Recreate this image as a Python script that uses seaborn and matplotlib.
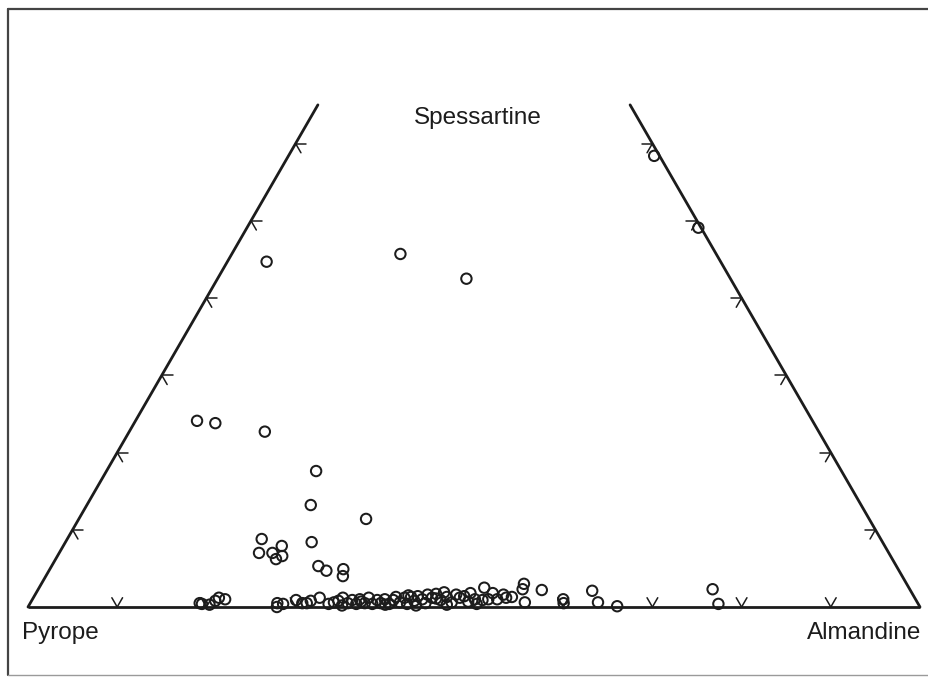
import numpy as np
import pandas as pd
import matplotlib
matplotlib.use("Agg")
import matplotlib.pyplot as plt
from matplotlib.lines import Line2D
import seaborn as sns

# Garnet compositions, mol % end-members (pyrope = 100 - spessartine - almandine)
spessartine = [
    44.7, 45.7, 42.5, 58.4, 49.1, 24.1, 23.8, 22.7, 17.6, 13.2, 11.4,
    8.8, 7.0, 7.0, 7.9, 6.2, 6.6, 8.4, 5.3, 4.7, 4.9, 4.0,
    0.5, 0.4, 0.3, 0.8, 1.2, 1.0,
    0.5, 0.0, 0.4, 0.9, 0.5, 0.5, 0.8, 1.2, 0.4, 0.6,
    0.8, 1.2, 0.5, 0.9, 0.4, 1.0, 0.5, 1.2, 0.4, 0.9, 0.5, 1.0, 0.4, 0.9,
    1.3, 0.6, 1.2, 0.4, 1.3, 0.8, 1.4, 1.0, 0.5, 1.6, 1.2, 1.7, 0.9, 1.9,
    1.3, 0.6, 1.6,
    1.2, 1.8, 1.0, 0.4, 2.5, 0.9, 1.0, 1.8, 1.0, 1.6, 1.2, 1.3, 3.0, 2.3,
    0.6, 2.2, 1.0, 0.5, 2.1, 0.6, 0.1, 2.3, 0.4,
    0.2, 0.7, 0.3, 1.5, 0.2, 1.1, 0.3, 1.4, 0.7,
]
almandine = [
    4.4, 18.9, 27.9, 41.0, 50.6, 6.9, 9.1, 15.2, 23.5, 25.1, 32.2,
    21.8, 22.4, 23.9, 24.5, 24.7, 25.2, 27.6, 29.9, 31.1, 32.9, 33.3,
    19.0, 19.3, 20.2, 20.6, 20.8, 21.6,
    27.7, 27.9, 28.4, 29.6, 30.5, 31.0, 31.3, 32.1, 33.5, 34.0,
    34.4, 34.7, 35.6, 35.9, 36.6, 36.7, 37.5, 37.6, 38.4, 38.7, 39.3, 39.5, 40.3, 40.5,
    40.6, 41.4, 41.6, 42.3, 42.3, 42.9, 43.0, 43.7, 44.3, 44.0, 44.7, 44.9, 45.8, 45.7,
    46.3, 47.2, 47.2,
    47.8, 48.7, 49.6, 50.1, 49.9, 50.5, 51.1, 51.2, 52.1, 52.5, 53.0, 53.6, 54.1, 54.3,
    55.4, 56.5, 59.5, 59.8, 62.2, 63.6, 66.0, 75.6, 77.2,
    35.1, 37.0, 39.9, 41.9, 43.4, 45.2, 46.8, 48.2, 49.0,
]

corner_labels = ["Pyrope", "Almandine", "Spessartine"]
tick_values = [10, 20, 30, 40, 50, 60, 70, 80, 90]
sps_max = 65  # upper part of the triangle is cut off here

H = np.sqrt(3) / 2


def to_xy(sps, alm):
    sps = np.asarray(sps, float) / 100
    alm = np.asarray(alm, float) / 100
    return alm + sps / 2, sps * H


df = pd.DataFrame({"Sps": spessartine, "Alm": almandine})
df["Pyr"] = 100 - df["Sps"] - df["Alm"]
df["x"], df["y"] = to_xy(df["Sps"], df["Alm"])

sns.set_style("white")
plt.rcParams["font.family"] = ["Liberation Sans", "DejaVu Sans"]

W, Hpx = 929, 677
fig = plt.figure(figsize=(W / 100, Hpx / 100), dpi=100)
ax = fig.add_axes([0, 0, 1, 1])
scale = 892.0
ax.set_xlim(-28 / scale, (W - 28) / scale)
ax.set_ylim(-(Hpx - 607) / scale, 607 / scale)
ax.set_axis_off()

ink = "#1c1c1c"

# truncated triangle outline
xl, yl = to_xy([0, sps_max], [0, 0])
xr, yr = to_xy([sps_max, 0], [100 - sps_max, 100])
ax.plot(xl, yl, color=ink, lw=2.0, solid_capstyle="round")
ax.plot(xr, yr, color=ink, lw=2.0, solid_capstyle="round")
ax.plot([0, 1], [0, 0], color=ink, lw=2.0, solid_capstyle="butt")

# chevron ticks every 10 %
L = 0.012
def chevron(x0, y0, angles):
    for a in angles:
        r = np.deg2rad(a)
        ax.plot([x0, x0 + L * np.cos(r)], [y0, y0 + L * np.sin(r)],
                color=ink, lw=1.1)

for t in tick_values:
    if t < sps_max:
        x0, y0 = to_xy(t, 0)
        chevron(x0, y0, [0, -60])
        x0, y0 = to_xy(t, 100 - t)
        chevron(x0, y0, [180, 240])
    x0, y0 = to_xy(0, t)
    chevron(x0, y0, [60, 120])

sns.scatterplot(data=df, x="x", y="y", ax=ax, marker="o", s=56,
                facecolor="none", edgecolor=ink, linewidth=1.45, legend=False,
                zorder=3)

# corner labels
fs = 17.5
ax.text((22 - 28) / scale, (607 - 633) / scale, corner_labels[0], ha="left",
        va="center", fontsize=fs, color=ink)
ax.text((921 - 28) / scale, (607 - 633) / scale, corner_labels[1], ha="right",
        va="center", fontsize=fs, color=ink)
ax.text((478 - 28) / scale, (607 - 118) / scale, corner_labels[2], ha="center",
        va="center", fontsize=fs, color=ink)

# frame around the panel
fig.add_artist(Line2D([8 / W, 1], [1 - 9 / Hpx, 1 - 9 / Hpx], color="#444444", lw=1.6))
fig.add_artist(Line2D([8 / W, 8 / W], [1 - 9 / Hpx, 1 - 675 / Hpx], color="#444444", lw=1.6))
fig.add_artist(Line2D([8 / W, 1], [1 - 675 / Hpx, 1 - 675 / Hpx], color="#9a9a9a", lw=1.0))

fig.savefig("out.png", dpi=100, facecolor="white")
